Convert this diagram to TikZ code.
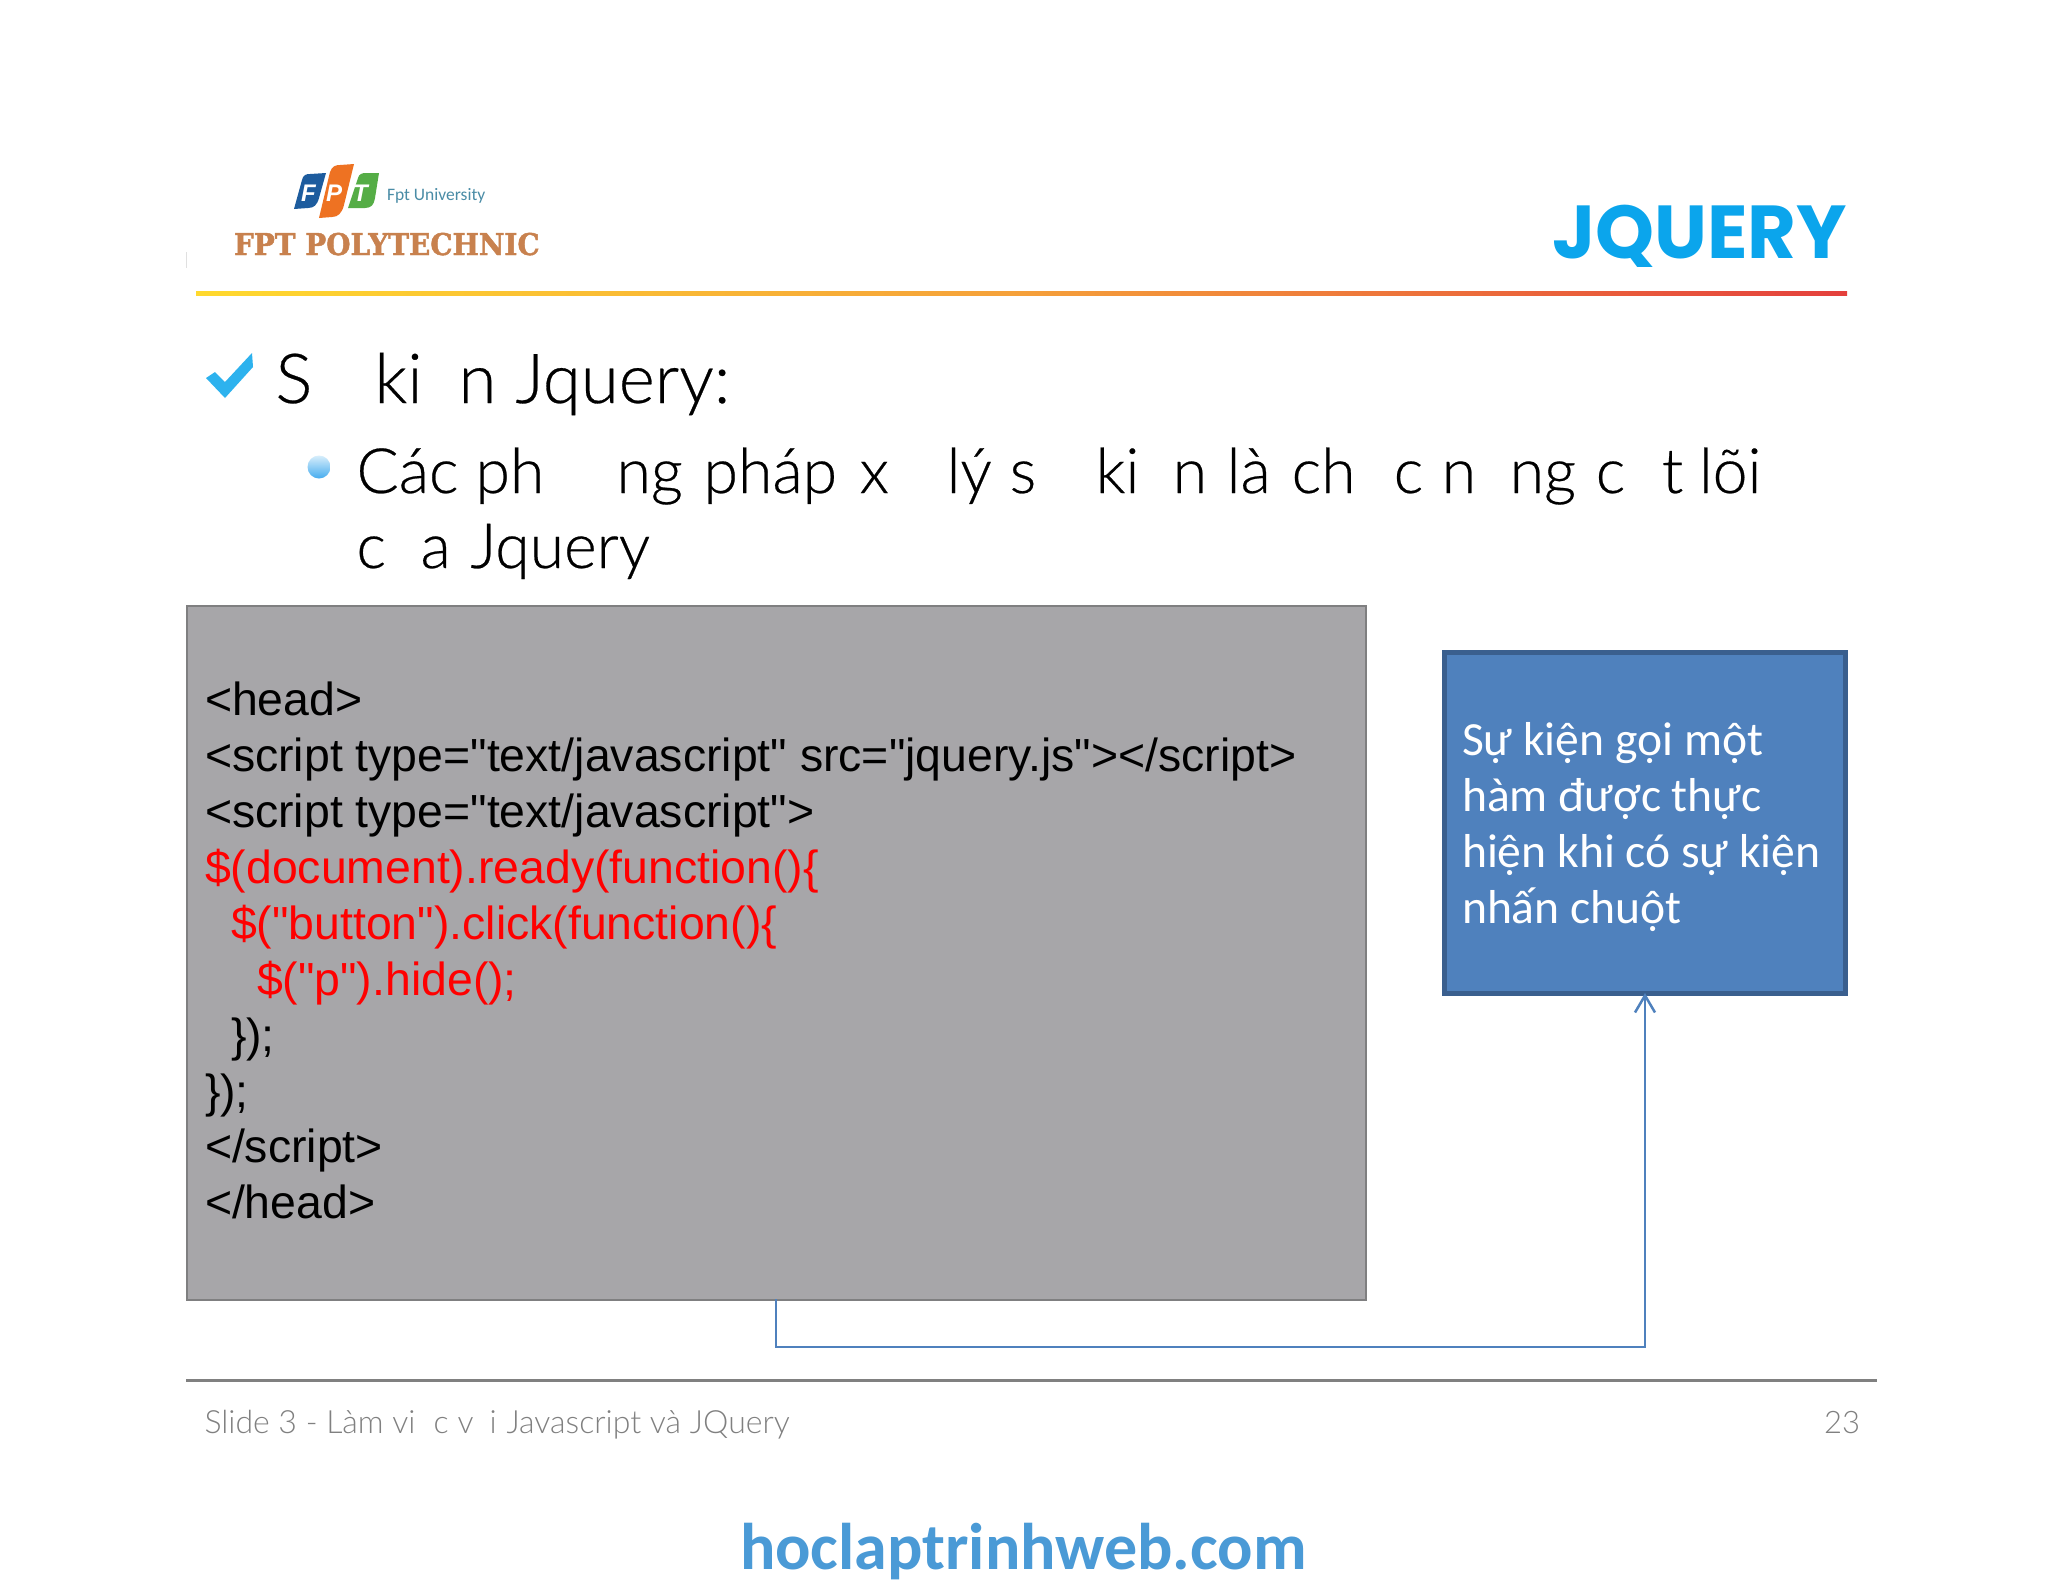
\documentclass[tikz,border=0pt]{standalone}
\usepackage{fontspec}
\newfontfamily\codef{Liberation Sans}
\newfontfamily\titlef[FakeBold=0.4]{Lato Light}
\newfontfamily\footf{Lato Light}
\newfontfamily\boxf{Carlito}
\newfontfamily\slabf[FakeStretch=0.93,FakeBold=1.5]{DejaVu Serif}
\newfontfamily\headf{Poppins}
\newfontfamily\logof{Liberation Sans}
\usetikzlibrary{arrows.meta,shadings}
\definecolor{codegray}{HTML}{A7A6A9}
\definecolor{codeedge}{HTML}{7F7F80}
\definecolor{boxblue}{HTML}{4F81BD}
\definecolor{boxedge}{HTML}{3A5F8E}
\definecolor{headblue}{HTML}{0BA5EC}
\definecolor{slab}{HTML}{C8814E}
\definecolor{webblue}{HTML}{4A9AD6}
\definecolor{footgray}{HTML}{808080}
\definecolor{fptblue}{HTML}{1D5C9E}
\definecolor{fptorange}{HTML}{EE7222}
\definecolor{fptgreen}{HTML}{55AD46}
\definecolor{fptteal}{HTML}{4A8CA6}
\definecolor{lineyellow}{HTML}{FFD92E}
\definecolor{lineorange}{HTML}{F5A03A}
\definecolor{linered}{HTML}{E4403C}
\definecolor{checkblue}{HTML}{2DB2EE}
\definecolor{balltop}{HTML}{D8EEFB}
\definecolor{ballbot}{HTML}{45ACEF}
\newcommand{\fragat}[2]{\rlap{\hspace{#1pt}#2}}
\tikzset{
 x=1pt,y=-1pt,
 txt/.style={inner sep=0pt,outer sep=0pt,anchor=base west},
 fsz/.style={font=\fontsize{#1}{#1}\selectfont},
 codeline/.style={txt,fsz=46.4},
 red code/.style={codeline,text=red},
 conn/.style={draw=boxblue,line width=2.5pt},
}
\begin{document}
\begin{tikzpicture}
\useasboundingbox (0,0) rectangle (2048,1582);
\fill[white] (0,0) rectangle (2048,1582);
% logo
\fill[fptblue] (302,180) .. controls (303,175) and (306,174) .. (310,174) -- (326,173) -- (319,198) .. controls (317,205) and (314,208) .. (308,208) -- (294,209) -- cycle;
\fill[fptorange] (330,172) .. controls (332,166) and (336,165) .. (340,165) -- (354,164) -- (344,205) .. controls (342,213) and (338,217) .. (332,217) -- (319,218) -- cycle;
\fill[fptgreen] (358,178) .. controls (359,174) and (362,173) .. (366,173) -- (379,173) -- (375,198) .. controls (374,205) and (371,208) .. (365,208) -- (348,208) -- cycle;
\node[txt,fsz=24,text=white] (lf) at (301,201) {\logof\bfseries\itshape F};
\node[txt,fsz=24,text=white] (lp) at (326,201) {\logof\bfseries\itshape P};
\node[txt,fsz=24,text=white] (lt) at (353,201) {\logof\bfseries\itshape T};
\node[txt,fsz=17.5,text=fptteal] (fu) at (387,200) {\boxf Fpt University};
\node[txt,fsz=30,text=slab] (poly) at (234,255) {\slabf\bfseries FPT POLYTECHNIC};
\draw[black!12,line width=1pt] (186,252) -- (186,268);
% heading
\node[txt,fsz=75,text=headblue] (jq) at (1552,258) {\headf\bfseries JQUERY};
\shade[left color=lineyellow,right color=linered,middle color=lineorange] (196,291) rectangle (1847,295);
% check
\fill[checkblue] (206,378) -- (215,372) -- (225,382) -- (252,353) -- (253,367) -- (225,398) -- cycle;
\node[txt,fsz=69] (t1) at (275,403) {\titlef\fragat{0}{S}\fragat{99}{ki}\fragat{183}{n}\fragat{240}{Jquery:}\hspace{455pt}};
\shade[top color=balltop,bottom color=ballbot] (319,467) circle (11.5);
\node[txt,fsz=62.5] (t2) at (356,493) {\titlef\fragat{0}{Các}\fragat{119}{ph}\fragat{260}{ng}\fragat{347}{pháp}\fragat{503}{x}\fragat{590}{lý}\fragat{653}{s}\fragat{739}{ki}\fragat{816}{n}\fragat{870}{là}\fragat{935}{ch}\fragat{1037}{c}\fragat{1085}{n}\fragat{1153}{ng}\fragat{1239}{c}\fragat{1305}{t}\fragat{1342}{lõi}\hspace{1417pt}};
\node[txt,fsz=62.5] (t3) at (356,568) {\titlef\fragat{0}{c}\fragat{64}{a}\fragat{114}{Jquery}\hspace{295pt}};
% code box
\node[draw=codeedge,fill=codegray,line width=2pt,minimum width=1179pt,minimum height=694pt,inner sep=0pt,anchor=north west] (code) at (186,605) {};
\node[codeline] (c1) at (205,715) {\codef <head>};
\node[codeline] (c2) at (205,771) {\codef <script type="text/javascript" src="jquery.js"></script>};
\node[codeline] (c3) at (205,827) {\codef <script type="text/javascript">};
\node[red code] (c4) at (205,883) {\codef \$(document).ready(function()\{};
\node[red code] (c5) at (231,939) {\codef \$("button").click(function()\{};
\node[red code] (c6) at (257,995) {\codef \$("p").hide();};
\node[codeline] (c7) at (231,1051) {\codef \});};
\node[codeline] (c8) at (205,1107) {\codef \});};
\node[codeline] (c9) at (205,1162) {\codef </script>};
\node[codeline] (c10) at (205,1218) {\codef </head>};
% blue box
\node[draw=boxedge,fill=boxblue,line width=5pt,minimum width=401pt,minimum height=341pt,inner sep=0pt,anchor=north west] (ev) at (1441.5,649.5) {};
\node[txt,fsz=47.6,text=white] (e1) at (1462,755) {\boxf Sự kiện gọi một};
\node[txt,fsz=47.6,text=white] (e2) at (1462,811) {\boxf hàm được thực};
\node[txt,fsz=47.6,text=white] (e3) at (1462,867) {\boxf hiện khi có sự kiện};
\node[txt,fsz=47.6,text=white] (e4) at (1462,923) {\boxf nhấn chuột};
% connector
\coordinate (cs) at (776,1299);
\coordinate (ct) at (1645,993);
\draw[conn,-{Straight Barb[length=17pt,width=20pt,line width=2.5pt]}] (cs) -- (776,1347) -- (1645,1347) -- (ct);
% footer
\draw[footgray,line width=3pt] (186,1380) -- (1877,1380);
\node[txt,fsz=32,text=footgray] (f1) at (204,1433) {\footf\fragat{0}{Slide 3 - Làm vi}\fragat{229}{c}\fragat{253}{v}\fragat{285}{i}\fragat{302}{Javascript và JQuery}\hspace{584pt}};
\node[txt,fsz=31,text=footgray] (f2) at (1824,1433) {\footf 23};
\node[txt,fsz=66,text=webblue] (web) at (740,1569) {\boxf\bfseries hoclaptrinhweb.com};
\end{tikzpicture}
\end{document}
